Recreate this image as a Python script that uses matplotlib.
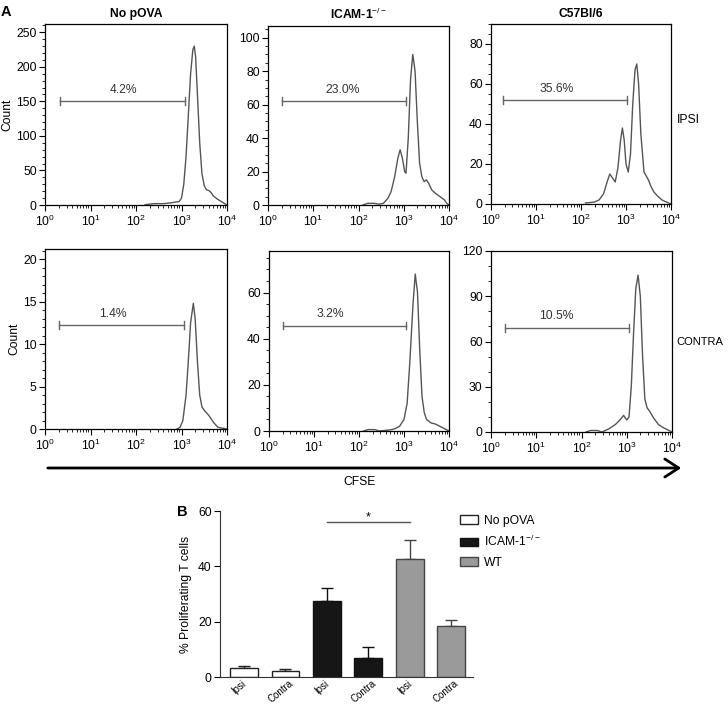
import numpy as np
import matplotlib
matplotlib.use("Agg")
import matplotlib.pyplot as plt
from matplotlib.patches import Patch, FancyArrowPatch
from matplotlib.ticker import MultipleLocator, LogLocator, NullFormatter

plt.rcParams['font.family'] = ['Liberation Sans', 'DejaVu Sans']
plt.rcParams['mathtext.fontset'] = 'custom'
plt.rcParams['mathtext.rm'] = 'Liberation Sans'
plt.rcParams['mathtext.bf'] = 'Liberation Sans:bold'

FS = 8.7

# ---- histogram data (log10 CFSE, count) ----
col_titles = ['No pOVA', r'ICAM-1$^{-/-}$', 'C57Bl/6']
row_labels = ['IPSI', 'CONTRA']

# top row (IPSI)
nopova_ipsi_x = [2.2, 2.4, 2.6, 2.75, 2.85, 2.95, 3.0, 3.05, 3.1, 3.15, 3.2, 3.25, 3.28, 3.31,
                 3.35, 3.4, 3.45, 3.5, 3.55, 3.6, 3.65, 3.7, 3.8, 3.9, 4.0]
nopova_ipsi_y = [0.5, 2, 2, 3, 4, 5, 10, 30, 70, 130, 190, 225, 230, 215,
                 160, 90, 45, 28, 22, 21, 18, 13, 8, 4, 0]
icam_ipsi_x = [2.1, 2.2, 2.35, 2.45, 2.55, 2.65, 2.72, 2.8, 2.87, 2.92, 2.97, 3.02, 3.05, 3.1,
               3.15, 3.2, 3.25, 3.3, 3.35, 3.4, 3.45, 3.5, 3.55, 3.62, 3.7, 3.8, 3.9, 3.95, 4.0]
icam_ipsi_y = [0, 1, 1, 0.5, 1, 4, 8, 17, 28, 33, 28, 20, 19, 40,
               75, 90, 80, 50, 25, 17, 14, 15, 13, 9, 7, 5, 3, 1, 0]
wt_ipsi_x = [2.1, 2.3, 2.4, 2.5, 2.58, 2.64, 2.7, 2.76, 2.82, 2.88, 2.92, 2.96, 3.0, 3.05,
             3.1, 3.15, 3.2, 3.24, 3.28, 3.33, 3.4, 3.45, 3.5, 3.55, 3.62, 3.7, 3.8, 3.9, 4.0]
wt_ipsi_y = [0.5, 1, 2, 5, 11, 15, 13, 11, 18, 32, 38, 32, 20, 16,
             25, 50, 67, 70, 60, 35, 16, 14, 12, 9, 6, 4, 2, 1, 0]

# bottom row (CONTRA)
nopova_contra_x = [2.9, 2.97, 3.03, 3.1, 3.15, 3.2, 3.26, 3.3, 3.35, 3.4, 3.45, 3.5, 3.6, 3.7, 3.8, 4.0]
nopova_contra_y = [0, 0.2, 1, 4, 8, 12.5, 14.8, 13, 8, 4, 2.6, 2.2, 1.6, 0.8, 0.2, 0]
icam_contra_x = [2.1, 2.2, 2.35, 2.45, 2.7, 2.8, 2.9, 3.0, 3.07, 3.13, 3.2, 3.25, 3.3, 3.35,
                 3.4, 3.45, 3.5, 3.6, 3.7, 3.8, 3.9, 4.0]
icam_contra_y = [0, 0.6, 0.6, 0, 0.5, 1, 2, 5, 12, 30, 55, 68, 60, 35,
                 15, 8, 5, 3.5, 3, 2, 1, 0]
wt_contra_x = [2.1, 2.2, 2.35, 2.45, 2.6, 2.75, 2.85, 2.93, 3.0, 3.05, 3.1, 3.15, 3.2, 3.25,
               3.3, 3.35, 3.4, 3.45, 3.5, 3.6, 3.7, 3.8, 3.9, 4.0]
wt_contra_y = [0, 1, 1, 0, 2, 5, 8, 11, 8, 10, 30, 65, 95, 104,
               90, 50, 22, 16, 14, 9, 5, 3, 1.5, 0]

hist_x = [[nopova_ipsi_x, icam_ipsi_x, wt_ipsi_x], [nopova_contra_x, icam_contra_x, wt_contra_x]]
hist_y = [[nopova_ipsi_y, icam_ipsi_y, wt_ipsi_y], [nopova_contra_y, icam_contra_y, wt_contra_y]]

# gates: percentage, start, end (log10), height
gate_pct = [['4.2%', '23.0%', '35.6%'], ['1.4%', '3.2%', '10.5%']]
gate_start = [[0.32, 0.3, 0.27], [0.31, 0.3, 0.31]]
gate_end = [[3.07, 3.04, 3.02], [3.05, 3.04, 3.06]]
gate_level = [[150, 62, 52], [12.2, 45.7, 69]]
label_pos = [[1.72, 1.66, 1.46], [1.5, 1.36, 1.45]]

y_max = [[262, 107, 90], [21.2, 78, 120]]
y_major = [[50, 20, 20], [5, 20, 30]]
y_minor = [[10, 5, 5], [1, 5, 10]]

# ---- bar chart data ----
groups = ['No pOVA', r'ICAM-1$^{-/-}$', 'WT']
bar_labels = ['Ipsi', 'Contra', 'Ipsi', 'Contra', 'Ipsi', 'Contra']
bar_values = [3.3, 2.0, 27.3, 7.0, 42.7, 18.3]
bar_errors = [0.8, 0.8, 5.0, 3.7, 6.8, 2.2]
bar_group = [0, 0, 1, 1, 2, 2]
group_colors = ['white', '#161616', '#9a9a9a']
group_edges = ['#222222', '#111111', '#444444']

fig = plt.figure(figsize=(7.28, 7.05), dpi=100)
W, H = 728, 705


def px_axes(x0, y0, x1, y1):
    return fig.add_axes([x0 / W, 1 - y1 / H, (x1 - x0) / W, (y1 - y0) / H])


boxes = [[(45, 24, 227, 205), (268, 26, 449, 205), (491, 24, 671, 204)],
         [(45, 249, 227, 429), (269, 251, 449, 431), (491, 251, 672, 432)]]

for r in range(2):
    for c in range(3):
        ax = px_axes(*boxes[r][c])
        ax.plot(10 ** np.array(hist_x[r][c]), hist_y[r][c], color='#555555', lw=1.0)
        ax.set_xscale('log')
        ax.set_xlim(1, 1e4)
        ax.set_ylim(0, y_max[r][c])
        ax.xaxis.set_major_locator(LogLocator(base=10, numticks=10))
        ax.xaxis.set_minor_locator(LogLocator(base=10, subs=np.arange(2, 10), numticks=10))
        ax.xaxis.set_minor_formatter(NullFormatter())
        ax.yaxis.set_major_locator(MultipleLocator(y_major[r][c]))
        ax.yaxis.set_minor_locator(MultipleLocator(y_minor[r][c]))
        ax.tick_params(which='both', direction='out', top=False, right=False, labelsize=FS, pad=2)
        ax.tick_params(which='major', length=4, width=0.8)
        ax.tick_params(which='minor', length=2, width=0.6)
        for s in ax.spines.values():
            s.set_linewidth(0.9)
        # gate
        g0, g1, gy = 10 ** gate_start[r][c], 10 ** gate_end[r][c], gate_level[r][c]
        ax.plot([g0, g1], [gy, gy], color='#666666', lw=1.0)
        tick_h = y_max[r][c] * 0.022
        ax.plot([g0, g0], [gy - tick_h, gy + tick_h], color='#666666', lw=1.0)
        ax.plot([g1, g1], [gy - tick_h, gy + tick_h], color='#666666', lw=1.0)
        ax.text(10 ** label_pos[r][c], gy + y_max[r][c] * 0.03, gate_pct[r][c],
                ha='center', va='bottom', fontsize=FS, color='#333333')
        if c == 0:
            ax.set_ylabel('Count', fontsize=FS, labelpad=2)
        if r == 0:
            ax.set_title(col_titles[c], fontsize=FS, fontweight='bold', pad=5)

fig.text(1 / W, 1 - 12 / H, 'A', fontsize=10.5, fontweight='bold', va='center')
fig.text(677 / W, 1 - 120 / H, row_labels[0], fontsize=FS, va='center')
fig.text(676 / W, 1 - 342 / H, row_labels[1], fontsize=8, va='center')

# CFSE arrow
arrow = FancyArrowPatch((45 / W, 1 - 468 / H), (684 / W, 1 - 468 / H), transform=fig.transFigure,
                        arrowstyle='->,head_length=10,head_width=6.5', lw=2, color='black')
fig.add_artist(arrow)
fig.text(360 / W, 1 - 482 / H, 'CFSE', fontsize=FS, ha='center', va='center')

# ---- panel B ----
axb = px_axes(220, 511, 473, 677)
xpos = np.arange(len(bar_values))
for i in range(len(bar_values)):
    g = bar_group[i]
    axb.bar(xpos[i], bar_values[i], width=0.67, color=group_colors[g],
            edgecolor=group_edges[g], linewidth=1.0, zorder=2)
    axb.errorbar(xpos[i], bar_values[i], yerr=[[0], [bar_errors[i]]], color=group_edges[g],
                 capsize=4.5, elinewidth=1.0, capthick=1.0, zorder=1)
axb.set_xlim(-0.58, 5.53)
axb.set_ylim(0, 60)
axb.yaxis.set_major_locator(MultipleLocator(20))
axb.set_xticks(xpos - 0.12)
axb.set_xticklabels(bar_labels, rotation=40, ha='center', fontsize=7)
axb.tick_params(axis='x', length=0, pad=1)
axb.tick_params(axis='y', direction='out', length=4, labelsize=FS, pad=2)
axb.spines['top'].set_visible(False)
axb.spines['right'].set_visible(False)
axb.spines['left'].set_color('#333333')
axb.spines['bottom'].set_color('#333333')
axb.set_ylabel('% Proliferating T cells', fontsize=FS, labelpad=4)

# significance bar
axb.plot([2, 4], [56, 56], color='#555555', lw=1.0, clip_on=False)
axb.text(3.0, 55.6, '*', ha='center', va='bottom', fontsize=9)

fig.text(182 / W, 1 - 512 / H, 'B', fontsize=10.5, fontweight='bold', ha='center', va='center')

handles = [Patch(facecolor=group_colors[g], edgecolor=group_edges[g], label=groups[g]) for g in range(3)]
fig.legend(handles=handles, loc='upper left', bbox_to_anchor=(449 / W, 1 - 504 / H), frameon=False,
           fontsize=FS, handlelength=1.5, handleheight=0.7, labelspacing=0.6, handletextpad=0.5)

fig.savefig('out.png', dpi=100)
